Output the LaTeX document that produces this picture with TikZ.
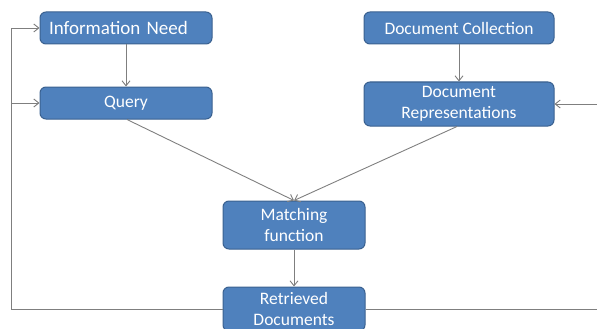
\documentclass[tikz,border=0pt]{standalone}
\usepackage{fontspec}
\setmainfont{Carlito}
\usetikzlibrary{arrows.meta}
\definecolor{boxfill}{HTML}{4F81BD}
\definecolor{boxline}{HTML}{3A6190}
\definecolor{conn}{HTML}{7F7F7F}
\tikzset{
  box/.style={draw=boxline, fill=boxfill, line width=1pt, rounded corners=6pt,
    text=white, align=center, font=\fontsize{17.5}{21}\selectfont, inner sep=0pt},
  conline/.style={draw=conn, line width=0.9pt},
  arr/.style={conline, -{Straight Barb[length=5pt,width=8pt]}}
}
\begin{document}
\begin{tikzpicture}[x=1pt,y=-1pt]
\useasboundingbox (0,0) rectangle (597,329);
\clip (0,0) rectangle (597,329);
\node[box, minimum width=172pt, minimum height=32pt, text width=154pt, align=left,
      font=\fontsize{19}{22}\selectfont] (need) at (126,28) {Information Need};
\node[box, minimum width=172pt, minimum height=32pt] (query) at (126,103) {Query};
\node[box, minimum width=190pt, minimum height=32pt] (coll) at (459,28) {Document Collection};
\node[box, minimum width=190pt, minimum height=44pt] (rep) at (459,104) {Document\\Representations};
\node[box, minimum width=142pt, minimum height=48pt] (match) at (294,225) {Matching\\function};
\node[box, minimum width=142pt, minimum height=44pt] (retr) at (294,309) {Retrieved\\Documents};
\coordinate (lc) at (11,309);
\coordinate (rc) at (605,309);
\coordinate (qs) at (127,119);
\coordinate (rs) at (457,126);
\draw[arr] (need) -- (query);
\draw[arr] (coll) -- (rep);
\draw[arr] (query.south -| qs) -- (match.north);
\draw[arr] (rep.south -| rs) -- (match.north);
\draw[arr] (match) -- (retr);
\draw[conline] (retr.west) -- (lc);
\draw[arr] (lc) |- (need.west);
\draw[arr] (lc |- query.west) -- (query.west);
\draw[conline] (retr.east) -- (rc);
\draw[arr] (rc) |- (rep.east);
\end{tikzpicture}
\end{document}
